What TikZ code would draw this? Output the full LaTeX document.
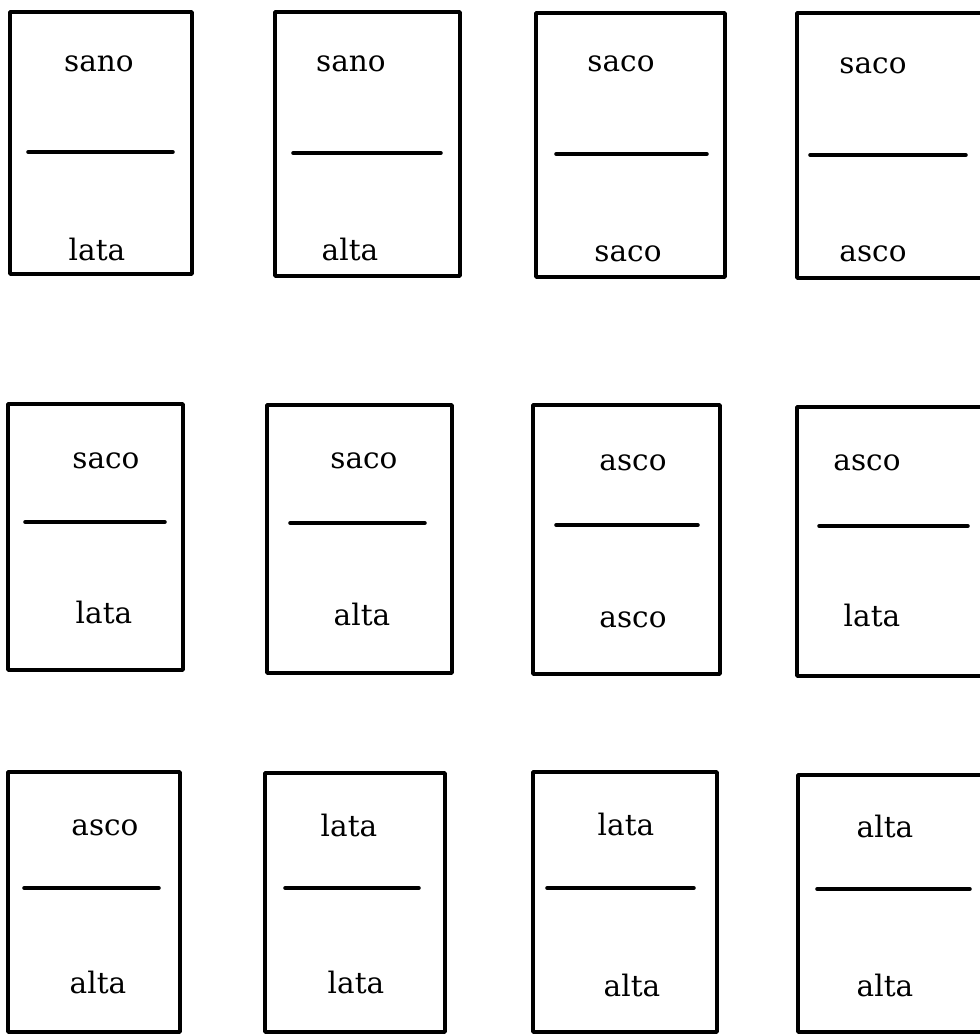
\documentclass[tikz,border=0pt]{standalone}
\usepackage{fontspec}
\setmainfont{DejaVu Serif}
\tikzset{
  card/.style={line width=2.5pt, line join=round},
  rule/.style={line width=2.5pt, line cap=round},
  word/.style={font=\fontsize{21}{25}\selectfont, anchor=base, inner sep=0pt}
}
\begin{document}
\begin{tikzpicture}[x=0.025cm, y=-0.025cm]
\useasboundingbox (0,0) rectangle (980,1035);
\clip (0,0) rectangle (980,1035);
% prima riga
\draw[card] (10,12) rectangle (192,274);
\draw[rule] (28,152) -- (173,152);
\node[word] (su11) at (99,71) {sano};
\node[word] (gi11) at (97,260) {lata};
\draw[card] (275,12) rectangle (460,276);
\draw[rule] (293,153) -- (441,153);
\node[word] (su12) at (351,71) {sano};
\node[word] (gi12) at (350,260) {alta};
\draw[card] (536,13) rectangle (725,277);
\draw[rule] (556,154) -- (707,154);
\node[word] (su13) at (621,71) {saco};
\node[word] (gi13) at (628,261) {saco};
\draw[card] (990,13) -- (797,13) -- (797,278) -- (990,278);
\draw[rule] (810,155) -- (966,155);
\node[word] (su14) at (873,73) {saco};
\node[word] (gi14) at (873,261) {asco};
% seconda riga
\draw[card] (8,404) rectangle (183,670);
\draw[rule] (25,522) -- (165,522);
\node[word] (su21) at (106,468) {saco};
\node[word] (gi21) at (104,623) {lata};
\draw[card] (267,405) rectangle (452,673);
\draw[rule] (290,523) -- (425,523);
\node[word] (su22) at (364,468) {saco};
\node[word] (gi22) at (362,625) {alta};
\draw[card] (533,405) rectangle (720,674);
\draw[rule] (556,525) -- (698,525);
\node[word] (su23) at (633,470) {asco};
\node[word] (gi23) at (633,627) {asco};
\draw[card] (990,407) -- (797,407) -- (797,676) -- (990,676);
\draw[rule] (819,526) -- (968,526);
\node[word] (su24) at (867,470) {asco};
\node[word] (gi24) at (872,626) {lata};
% terza riga
\draw[card] (8,772) rectangle (180,1032);
\draw[rule] (24,888) -- (159,888);
\node[word] (su31) at (105,835) {asco};
\node[word] (gi31) at (98,993) {alta};
\draw[card] (265,773) rectangle (445,1032);
\draw[rule] (285,888) -- (419,888);
\node[word] (su32) at (349,836) {lata};
\node[word] (gi32) at (356,993) {lata};
\draw[card] (533,772) rectangle (717,1032);
\draw[rule] (547,888) -- (694,888);
\node[word] (su33) at (626,835) {lata};
\node[word] (gi33) at (632,996) {alta};
\draw[card] (990,775) -- (798,775) -- (798,1032) -- (990,1032);
\draw[rule] (817,889) -- (970,889);
\node[word] (su34) at (885,837) {alta};
\node[word] (gi34) at (885,996) {alta};
\end{tikzpicture}
\end{document}
